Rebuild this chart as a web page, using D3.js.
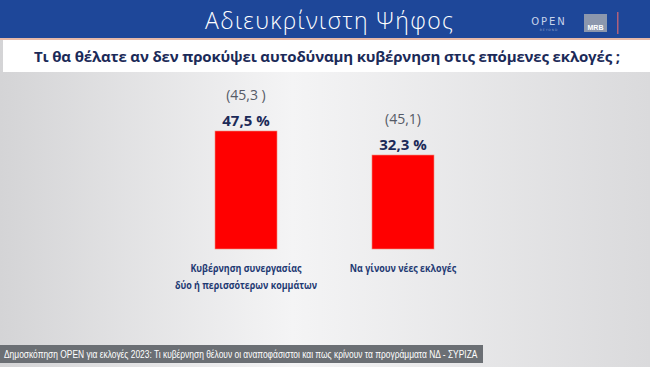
<!DOCTYPE html>
<html>
<head>
<meta charset="utf-8">
<script src="https://cdn.jsdelivr.net/npm/d3@7"></script>
<style>
  body { margin: 0; background: #fff; }
  svg { display: block; }
</style>
</head>
<body>
<svg id="chart"></svg>
<script>
const categories = ["Κυβέρνηση συνεργασίας|δύο ή περισσότερων κομμάτων", "Να γίνουν νέες εκλογές"];
const values = [47.5, 32.3];
const previous = ["(45,3 )", "(45,1)"];
const valueLabels = ["47,5 %", "32,3 %"];
const headerTitle = "Αδιευκρίνιστη  Ψήφος";
const question = "Τι θα θέλατε αν δεν προκύψει αυτοδύναμη κυβέρνηση στις επόμενες εκλογές ;";
const footer = "Δημοσκόπηση OPEN για εκλογές 2023: Τι κυβέρνηση θέλουν οι αναποφάσιστοι και πως κρίνουν τα προγράμματα ΝΔ - ΣΥΡΙΖΑ";
// the original bars do not start at zero
const yDomain = [-27.2, 47.5];

const W = 650, H = 367;
const svg = d3.select("#chart").attr("width", W).attr("height", H);

const defs = svg.append("defs");
const bg = defs.append("linearGradient").attr("id", "bg").attr("x1", 0).attr("x2", 1);
bg.append("stop").attr("offset", "0%").attr("stop-color", "#d4d4d6");
bg.append("stop").attr("offset", "45%").attr("stop-color", "#f4f4f5");
bg.append("stop").attr("offset", "100%").attr("stop-color", "#dadadc");

// background
svg.append("rect").attr("width", W).attr("height", H).attr("fill", "url(#bg)");

// header band
svg.append("rect").attr("x", 0).attr("y", 0).attr("width", W).attr("height", 38).attr("fill", "#1e4799");
svg.append("rect").attr("x", 0).attr("y", 38).attr("width", W).attr("height", 2).attr("fill", "#e7b9a8");
svg.append("rect").attr("x", 3).attr("y", 40).attr("width", W - 3).attr("height", 32).attr("fill", "#ffffff");

svg.append("text")
    .attr("x", 205).attr("y", 29)
    .attr("fill", "#ffffff")
    .style("font-family", "'Open Sans', sans-serif")
    .style("font-size", "23px")
    .style("font-weight", 300)
    .attr("textLength", 248)
    .text(headerTitle);

// logos
svg.append("text")
    .attr("x", 549).attr("y", 25)
    .attr("text-anchor", "middle")
    .attr("fill", "#c9d4ea")
    .style("font-family", "'DejaVu Sans', sans-serif")
    .style("font-size", "10px")
    .style("letter-spacing", "2px")
    .text("OPEN");
svg.append("text")
    .attr("x", 549).attr("y", 31)
    .attr("text-anchor", "middle")
    .attr("fill", "#8ea2cc")
    .style("font-family", "'DejaVu Sans', sans-serif")
    .style("font-size", "3px")
    .style("letter-spacing", "1px")
    .text("BEYOND");
svg.append("rect").attr("x", 584).attr("y", 14).attr("width", 23).attr("height", 18).attr("fill", "#8c97ad");
svg.append("text")
    .attr("x", 595.5).attr("y", 30)
    .attr("text-anchor", "middle")
    .attr("fill", "#ffffff")
    .style("font-family", "'Liberation Sans', sans-serif")
    .style("font-size", "7px")
    .style("font-weight", "bold")
    .text("MRB");
svg.append("rect").attr("x", 617).attr("y", 12).attr("width", 1.5).attr("height", 22).attr("fill", "#b0607a");

// question
svg.append("text")
    .attr("x", 327).attr("y", 62)
    .attr("text-anchor", "middle")
    .attr("fill", "#1b2a58")
    .style("font-family", "'Open Sans', sans-serif")
    .style("font-size", "15px")
    .style("font-weight", "bold")
    .attr("textLength", 586)
    .text(question);

// bars
const x = d3.scaleBand()
    .domain(categories)
    .range([215, 434])
    .paddingInner(0.605)
    .paddingOuter(0);

const y = d3.scaleLinear()
    .domain(yDomain)
    .range([249, 131]);

const g = svg.append("g");

g.selectAll("rect.bar")
    .data(values)
    .join("rect")
    .attr("class", "bar")
    .attr("x", (d, i) => x(categories[i]))
    .attr("y", d => y(d))
    .attr("width", x.bandwidth())
    .attr("height", d => y(yDomain[0]) - y(d))
    .attr("fill", "#ff0000")
    .attr("stroke", "#f08a7a")
    .attr("stroke-width", 0.6);

g.selectAll("text.value")
    .data(values)
    .join("text")
    .attr("class", "value")
    .attr("x", (d, i) => x(categories[i]) + x.bandwidth() / 2)
    .attr("y", d => y(d) - 5)
    .attr("text-anchor", "middle")
    .attr("fill", "#1b2a58")
    .style("font-family", "'Open Sans', sans-serif")
    .style("font-size", "15px")
    .style("font-weight", "bold")
    .text((d, i) => valueLabels[i]);

g.selectAll("text.prev")
    .data(values)
    .join("text")
    .attr("class", "prev")
    .attr("x", (d, i) => x(categories[i]) + x.bandwidth() / 2)
    .attr("y", d => y(d) - 31)
    .attr("text-anchor", "middle")
    .attr("fill", "#555a66")
    .style("font-family", "'Open Sans', sans-serif")
    .style("font-size", "14px")
    .text((d, i) => previous[i]);

// category labels (condensed a bit like the original font)
categories.forEach(c => {
    const lines = c.split("|");
    const cx = x(c) + x.bandwidth() / 2;
    lines.forEach((l, i) => {
        const t = g.append("text")
            .attr("x", cx)
            .attr("y", 272 + i * 17)
            .attr("text-anchor", "middle")
            .attr("fill", "#1f3a73")
            .style("font-family", "'Open Sans', sans-serif")
            .style("font-size", "10.5px")
            .style("font-weight", "bold")
            .text(l);
        const len = t.node().getComputedTextLength();
        t.attr("textLength", len * 0.85).attr("lengthAdjust", "spacingAndGlyphs");
    });
});

// footer bar, text squeezed horizontally to fit
svg.append("rect").attr("x", 0).attr("y", 345).attr("width", 483).attr("height", 18).attr("fill", "#6b6f74");
const ft = svg.append("text")
    .attr("fill", "#ffffff")
    .style("font-family", "'Liberation Sans', sans-serif")
    .style("font-size", "11.5px")
    .text(footer);
const fLen = ft.node().getComputedTextLength();
ft.attr("transform", `translate(4,358) scale(${474 / fLen},1)`);
</script>
</body>
</html>
